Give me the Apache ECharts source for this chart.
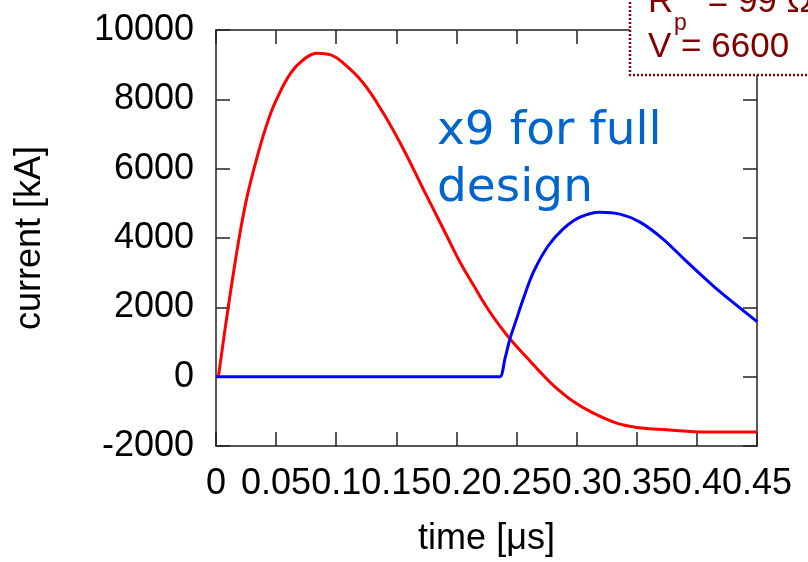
<!DOCTYPE html>
<html>
<head>
<meta charset="utf-8">
<script src="https://cdn.jsdelivr.net/npm/echarts@6/dist/echarts.min.js"></script>
<style>
html,body{margin:0;padding:0;background:#fff;}
#chart{width:808px;height:562px;}
</style>
</head>
<body>
<div id="chart"></div>
<script>
// time in microseconds, current in kA
var redTime = [0.002, 0.0100, 0.0191, 0.0260, 0.0344, 0.0427, 0.0499, 0.0621, 0.0732, 0.0843, 0.0954, 0.1056, 0.1223, 0.1389, 0.1556, 0.1711, 0.1808, 0.1919, 0.2030, 0.2140, 0.2252, 0.2362, 0.2460, 0.2612, 0.2695, 0.2806, 0.2973, 0.3139, 0.3333, 0.3500, 0.3749, 0.4082, 0.45];
var redCurrent = [0, 1961, 3970, 5213, 6362, 7321, 7961, 8756, 9158, 9330, 9282, 9053, 8479, 7618, 6583, 5501, 4832, 4065, 3301, 2650, 2004, 1458, 1028, 454, 138, -250, -718, -1054, -1341, -1464, -1533, -1599, -1599];
var blueTime = [0, 0.2300, 0.2362, 0.2404, 0.2446, 0.2501, 0.2556, 0.2640, 0.2762, 0.2886, 0.3028, 0.3194, 0.3361, 0.3527, 0.3719, 0.3918, 0.4135, 0.4334, 0.45];
var blueCurrent = [0, 0, 0, 525, 1100, 1674, 2248, 3014, 3769, 4258, 4602, 4746, 4688, 4459, 3970, 3310, 2621, 2047, 1588];
var xTicks = [0, 0.05, 0.1, 0.15, 0.2, 0.25, 0.3, 0.35, 0.4, 0.45];
var yTicks = [-2000, 0, 2000, 4000, 6000, 8000, 10000];
var xName = 'time [μs]';
var yName = 'current [kA]';
var noteLines = ['x9 for full', 'design'];
var boxLine1 = ['R', 'p', ' = 99 Ω'];
var boxLine2 = 'V = 6600';

function pairs(xs, ys){ return xs.map(function(x,i){ return [x, ys[i]]; }); }

var chart = echarts.init(document.getElementById('chart'), null, {renderer:'canvas'});
var axisColor = '#222';
var labelFont = {fontFamily:'Liberation Sans, Arial, sans-serif', fontSize:36, color:'#000'};
var xMin = xTicks[0], xMax = xTicks[xTicks.length-1];
var yMin = yTicks[0], yMax = yTicks[yTicks.length-1];
var xInt = xTicks[1]-xTicks[0], yInt = yTicks[1]-yTicks[0];

var option = {
  animation:false,
  backgroundColor:'#fff',
  grid:{left:216, top:30, right:51, bottom:114, containLabel:false},
  xAxis:[{
    type:'value', min:xMin, max:xMax, interval:xInt, position:'bottom',
    name:xName, nameLocation:'middle', nameGap:75,
    nameTextStyle:{fontFamily:'Liberation Sans, Arial, sans-serif', fontSize:36, color:'#000'},
    axisLine:{show:true, onZero:false, lineStyle:{color:axisColor, width:1.5}},
    axisTick:{show:true, inside:true, length:14, lineStyle:{color:axisColor, width:1.5}},
    axisLabel:Object.assign({margin:20, formatter:function(v){ return String(+v.toFixed(2)); }}, labelFont),
    splitLine:{show:false}
  },{
    type:'value', min:xMin, max:xMax, interval:xInt, position:'top',
    axisLine:{show:true, onZero:false, lineStyle:{color:axisColor, width:1.5}},
    axisTick:{show:true, inside:true, length:14, lineStyle:{color:axisColor, width:1.5}},
    axisLabel:{show:false}, splitLine:{show:false}
  }],
  yAxis:[{
    type:'value', min:yMin, max:yMax, interval:yInt, position:'left',
    name:yName, nameLocation:'middle', nameGap:168, nameRotate:90,
    nameTextStyle:{fontFamily:'Liberation Sans, Arial, sans-serif', fontSize:36, color:'#000'},
    axisLine:{show:true, onZero:false, lineStyle:{color:axisColor, width:1.5}},
    axisTick:{show:true, inside:true, length:14, lineStyle:{color:axisColor, width:1.5}},
    axisLabel:Object.assign({margin:22, formatter:function(v){ return String(v); }}, labelFont),
    splitLine:{show:false}
  },{
    type:'value', min:yMin, max:yMax, interval:yInt, position:'right',
    axisLine:{show:true, onZero:false, lineStyle:{color:axisColor, width:1.5}},
    axisTick:{show:true, inside:true, length:14, lineStyle:{color:axisColor, width:1.5}},
    axisLabel:{show:false}, splitLine:{show:false}
  }],
  series:[{
    type:'line', name:'red', data:pairs(redTime, redCurrent), xAxisIndex:0, yAxisIndex:0,
    showSymbol:false, smooth:0.4, lineStyle:{color:'#ff0000', width:3}, z:3
  },{
    type:'line', name:'blue', data:pairs(blueTime, blueCurrent), xAxisIndex:0, yAxisIndex:0,
    showSymbol:false, smooth:0.3, lineStyle:{color:'#0000ff', width:3}, z:4
  }],
  graphic:[
    {type:'text', left:437, top:108, z:50, style:{text:noteLines[0], fill:'#0066cc', font:'47px "DejaVu Sans", Verdana, sans-serif'}},
    {type:'text', left:437, top:165, z:50, style:{text:noteLines[1], fill:'#0066cc', font:'47px "DejaVu Sans", Verdana, sans-serif'}},
    {type:'rect', z:60, shape:{x:630, y:-10, width:200, height:85}, style:{fill:'#fff', stroke:'#8b0000', lineWidth:2.5, lineDash:[2,2]}},
    {type:'text', z:61, x:648, y:-15, style:{text:boxLine1[0], fill:'#800000', font:'35px "Liberation Sans", Arial, sans-serif'}},
    {type:'text', z:61, x:674, y:12, style:{text:boxLine1[1], fill:'#800000', font:'23px "Liberation Sans", Arial, sans-serif'}},
    {type:'text', z:61, x:698, y:-15, style:{text:boxLine1[2], fill:'#800000', font:'35px "Liberation Sans", Arial, sans-serif'}},
    {type:'text', z:61, x:648, y:30, style:{text:boxLine2, fill:'#800000', font:'35px "Liberation Sans", Arial, sans-serif'}}
  ]
};
chart.setOption(option);
</script>
</body>
</html>
